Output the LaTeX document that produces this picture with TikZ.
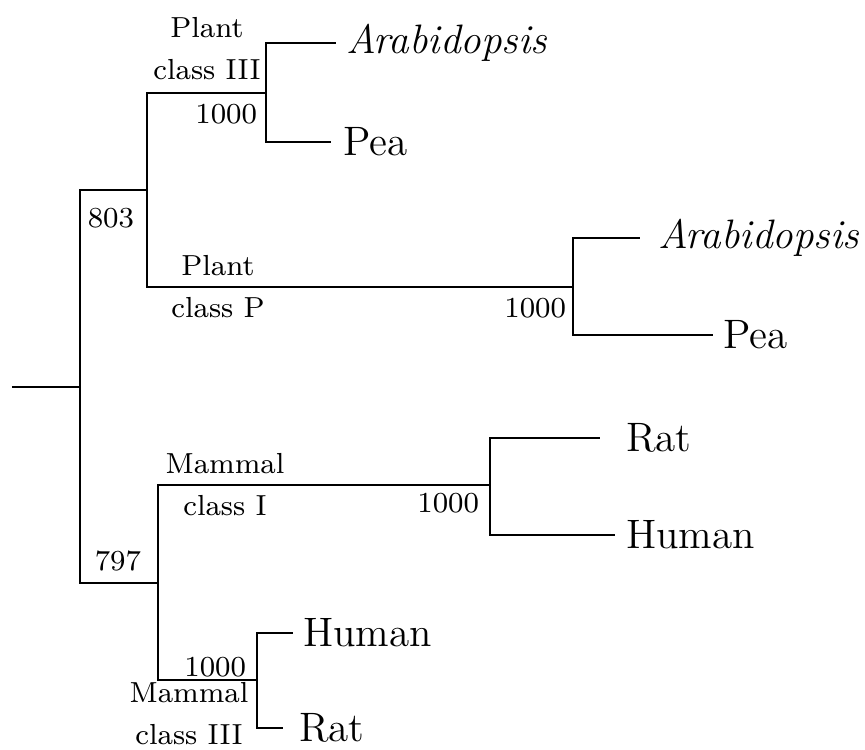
\documentclass[tikz,border=0pt]{standalone}
\begin{document}
\begin{tikzpicture}[line width=0.6pt,every node/.style={inner sep=0pt},
  leaf/.style={anchor=west,font=\fontsize{11.7}{14}\selectfont},
  clade/.style={anchor=base,align=center,font=\fontsize{8.25}{11.7}\selectfont},
  boot/.style={anchor=base east,font=\fontsize{8.25}{11.7}\selectfont}]
  \useasboundingbox (0,0) rectangle (8.65,7.49);
  % branch points
  \coordinate (base) at (0.12,3.62);
  \coordinate (root) at (0.80,3.62);
  \coordinate (plant) at (1.47,5.59);
  \coordinate (plantIII) at (2.66,6.56);
  \coordinate (plantP) at (5.73,4.62);
  \coordinate (mammal) at (1.58,1.66);
  \coordinate (mammalI) at (4.90,2.64);
  \coordinate (mammalIII) at (2.57,0.69);
  % tips
  \coordinate (t1) at (3.36,7.06);
  \coordinate (t2) at (3.31,6.07);
  \coordinate (t3) at (6.40,5.11);
  \coordinate (t4) at (7.13,4.14);
  \coordinate (t5) at (6.00,3.11);
  \coordinate (t6) at (6.15,2.14);
  \coordinate (t7) at (2.93,1.16);
  \coordinate (t8) at (2.83,0.21);
  \node[leaf] (arab1) at (3.45,7.06) {\textit{Arabidopsis}};
  \node[leaf] (pea1) at (3.42,6.07) {Pea};
  \node[leaf] (arab2) at (6.57,5.11) {\textit{Arabidopsis}};
  \node[leaf] (pea2) at (7.22,4.14) {Pea};
  \node[leaf] (rat1) at (6.25,3.11) {Rat};
  \node[leaf] (human1) at (6.25,2.14) {Human};
  \node[leaf] (human2) at (3.02,1.16) {Human};
  \node[leaf] (rat2) at (2.98,0.21) {Rat};
  % tree
  \draw (base) -- (root);
  \draw (root) |- (plant);
  \draw (root) |- (mammal);
  \draw (plant) |- (plantIII);
  \draw (plant) |- (plantP);
  \draw (plantIII) |- (t1);
  \draw (plantIII) |- (t2);
  \draw (plantP) |- (t3);
  \draw (plantP) |- (t4);
  \draw (mammal) |- (mammalI);
  \draw (mammal) |- (mammalIII);
  \draw (mammalI) |- (t5);
  \draw (mammalI) |- (t6);
  \draw (mammalIII) |- (t7);
  \draw (mammalIII) |- (t8);
  % labels
  \node[clade] (lplantIII) at (2.07,6.70) {Plant\\class III};
  \node[clade] (lplantP) at (2.18,4.32) {Plant\\class P};
  \node[clade] (lmammalI) at (2.25,2.34) {Mammal\\class I};
  \node[clade] (lmammalIII) at (1.89,0.05) {Mammal\\class III};
  \node[boot] (b1) at (2.58,6.26) {1000};
  \node[boot] (b2) at (1.35,5.22) {803};
  \node[boot] (b3) at (5.67,4.32) {1000};
  \node[boot] (b4) at (4.80,2.37) {1000};
  \node[boot] (b5) at (1.42,1.79) {797};
  \node[boot] (b6) at (2.47,0.73) {1000};
\end{tikzpicture}
\end{document}
